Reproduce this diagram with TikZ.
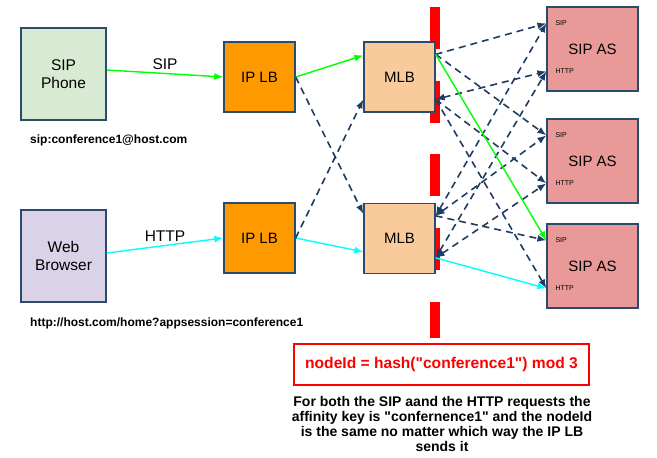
\documentclass[tikz,border=0pt]{standalone}
\usepackage{fontspec}
\setmainfont{Liberation Sans}[Ligatures=TeXOff]
\usetikzlibrary{arrows.meta}
\usetikzlibrary{shapes}

\definecolor{boxline}{HTML}{2A4B6E}
\definecolor{darrow}{HTML}{1F3D63}
\definecolor{phonefill}{HTML}{D9EAD3}
\definecolor{webfill}{HTML}{D9D2E9}
\definecolor{iplbfill}{HTML}{FF9900}
\definecolor{mlbfill}{HTML}{F9CB9C}
\definecolor{asfill}{HTML}{EA9999}
\definecolor{sipgreen}{HTML}{00FF00}
\definecolor{httpcyan}{HTML}{00FFFF}

\begin{document}
\begin{tikzpicture}[x=1pt,y=-1pt,>={Latex[length=9pt,width=7pt]},
  client/.style={draw=boxline,line width=1.3pt,minimum width=85pt,minimum height=92pt,
    align=center,font=\fontsize{15.5}{18}\selectfont},
  lb/.style={draw=boxline,line width=1.3pt,minimum width=71pt,minimum height=70pt,
    font=\fontsize{15}{17}\selectfont},
  sipas/.style={draw=boxline,line width=1.3pt,fill=asfill,minimum width=91pt,
    minimum height=84pt,font=\fontsize{15}{17}\selectfont},
  port/.style={font=\fontsize{7}{8}\selectfont,inner sep=0pt,anchor=west},
  link/.style={->,darrow,line width=1.6pt,dash pattern=on 7pt off 5pt},
  sip/.style={->,sipgreen,line width=1.4pt},
  http/.style={->,httpcyan,line width=1.4pt},
  lbl/.style={midway,above,text=black,font=\fontsize{15.5}{17}\selectfont},
  uri/.style={anchor=west,inner sep=0pt,font=\bfseries\fontsize{12}{14}\selectfont}]
  \useasboundingbox (0,0) rectangle (657,458);

  % red partition line
  \draw[red,line width=10pt,dash pattern=on 42pt off 31.7pt] (435,7) -- (435,338);

  \node[client,fill=phonefill] at (63.5,74) (phone) {SIP\\Phone};
  \node[client,fill=webfill] at (63.5,256) (web) {Web\\Browser};
  \node[lb,fill=iplbfill] at (259.5,77) (iplba) {IP LB};
  \node[lb,fill=iplbfill] at (259.5,238) (iplbb) {IP LB};
  \node[lb,fill=mlbfill] at (399.5,77) (mlba) {MLB};
  \node[lb,fill=mlbfill] at (399.5,238.5) (mlbb) {MLB};
  \node[sipas] at (592.5,49) (asa) {SIP AS};
  \node[sipas] at (592.5,161) (asb) {SIP AS};
  \node[sipas] at (592.5,266) (asc) {SIP AS};

  \foreach \n in {asa,asb,asc} {
    \node[port] at ([xshift=9pt,yshift=-17pt]\n.north west) (\n-sip) {SIP};
    \node[port] at ([xshift=9pt,yshift=-65pt]\n.north west) (\n-http) {HTTP};
  }

  \node[uri] at (30,140) (sipuri) {sip:conference1@host.com};
  \node[uri] at (30,323) (httpuri) {http://host.com/home?appsession=conference1};

  % ports on the MLBs
  \coordinate (mlba-in) at ([yshift=-14pt]mlba.north west);
  \coordinate (mlba-x) at ([yshift=-58pt]mlba.north west);
  \coordinate (mlbb-x) at ([yshift=-11pt]mlbb.north west);
  \coordinate (mlbb-in) at ([yshift=-49pt]mlbb.north west);
  \coordinate (mlba-s) at ([yshift=-13pt]mlba.north east);
  \coordinate (mlba-h) at ([yshift=-58pt]mlba.north east);
  \coordinate (mlbb-s) at ([yshift=-13pt]mlbb.north east);
  \coordinate (mlbb-h) at ([yshift=-55pt]mlbb.north east);

  \draw[sip] ([yshift=4pt]phone.east) -- (iplba.west) node[lbl] {SIP};
  \draw[http] ([yshift=3pt]web.east) -- (iplbb.west) node[lbl] {HTTP};

  \draw[sip] (iplba.east) -- (mlba-in);
  \draw[http] (iplbb.east) -- (mlbb-in);
  \draw[link] (iplba.east) -- (mlbb-x);
  \draw[link] (iplbb.east) -- (mlba-x);

  \draw[link] (mlba-s) -- (asa.west |- asa-sip);
  \draw[link] (mlba-s) -- (asb.west |- asb-sip);
  \draw[link,<->] (mlba-h) -- (asa.west |- asa-http);
  \draw[link] (mlba-h) -- (asb.west |- asb-http);
  \draw[link] (mlba-h) -- (asc.west |- asc-http);
  \draw[link,<->] (mlbb-s) -- (asa.west |- asa-sip);
  \draw[link,<->] (mlbb-s) -- (asb.west |- asb-sip);
  \draw[link] (mlbb-s) -- (asc.west |- asc-sip);
  \draw[link,<->] (mlbb-h) -- (asa.west |- asa-http);
  \draw[link,<->] (mlbb-h) -- (asb.west |- asb-http);
  \draw[sip] (mlba-s) -- (asc.west |- asc-sip);
  \draw[http] (mlbb-h) -- (asc.west |- asc-http);

  \node[draw=red,line width=1.5pt,fill=white,minimum width=295pt,minimum height=41pt,
    text=red,font=\bfseries\fontsize{15.6}{17}\selectfont] at (441.5,364.5) (hash)
    {nodeId = hash("conference1") mod 3};
  \node[align=center,font=\bfseries\fontsize{14}{15.2}\selectfont] at (442,424) (remark)
    {For both the SIP aand the HTTP requests the\\
     affinity key is "confernence1" and the nodeId\\
     is the same no matter which way the IP LB\\
     sends it};
\end{tikzpicture}
\end{document}
